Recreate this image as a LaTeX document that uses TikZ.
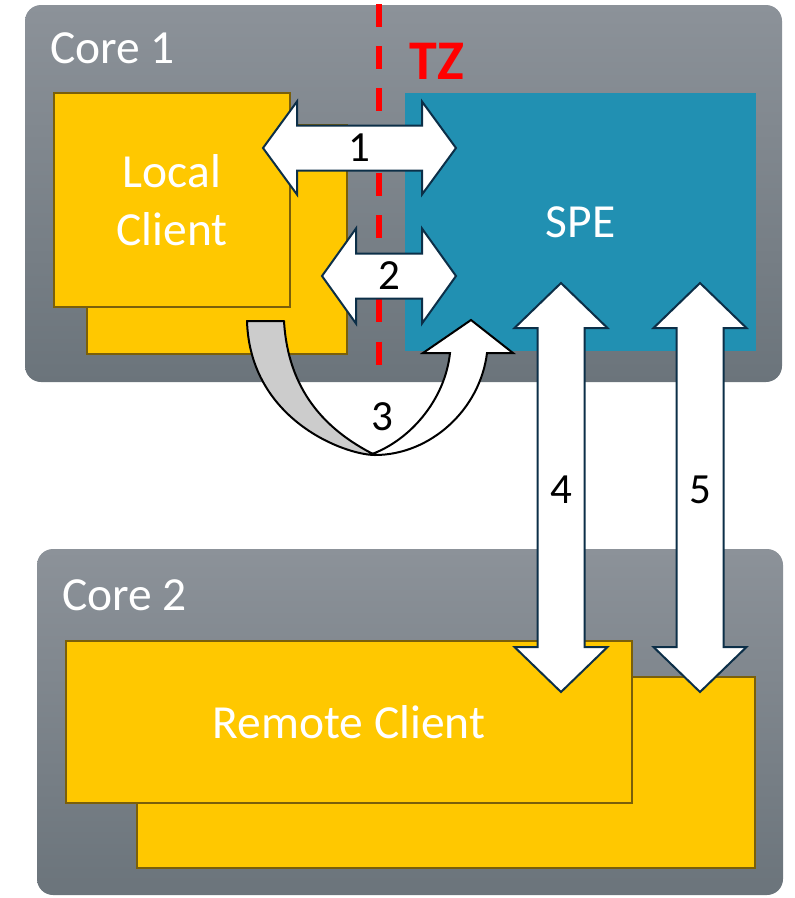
\documentclass[tikz,border=0pt]{standalone}
\usepackage{fontspec}
\setmainfont{Carlito}
\usepackage{tikz}

\definecolor{coretop}{RGB}{140,146,153}
\definecolor{corebot}{RGB}{107,116,123}
\definecolor{clientfill}{RGB}{255,200,0}
\definecolor{clientline}{RGB}{122,95,10}
\definecolor{spefill}{RGB}{33,144,178}
\definecolor{arrowline}{RGB}{12,47,72}
\definecolor{tailgray}{RGB}{204,204,204}

\begin{document}
\begin{tikzpicture}[x=1pt, y=-1pt,
    core/.style={rounded corners=16pt, top color=coretop, bottom color=corebot,
                 inner sep=0pt, outer sep=0pt},
    corelabel/.style={anchor=base west, text=white, inner sep=0pt,
                 font=\fontsize{47.5}{47.5}\selectfont},
    client/.style={fill=clientfill, draw=clientline, line width=2pt, inner sep=0pt,
                 text=white, align=center, font=\fontsize{47.5}{58}\selectfont},
    spe/.style={fill=spefill, inner sep=0pt, text=white,
                 font=\fontsize{47.5}{47.5}\selectfont},
    blockarrow/.style={fill=white, draw=arrowline, line width=2pt, line join=miter},
    num/.style={inner sep=0pt, font=\fontsize{43}{43}\selectfont}]
    \useasboundingbox (0,0) rectangle (795,898);

    % cores
    \node[core, minimum width=757pt, minimum height=377pt] (core1) at (403.5,193.5) {};
    \node[core, minimum width=746pt, minimum height=346pt] (core2) at (410,722) {};
    \node[corelabel] (core1lbl) at (50,63) {Core 1};
    \node[corelabel] (core2lbl) at (62,610) {Core 2};

    % clients and SPE
    \node[client, minimum width=260pt, minimum height=229pt] (localback) at (217,239.5) {};
    \node[client, minimum width=236pt, minimum height=214pt] (local) at (172,200) {Local\\Client};
    \node[spe, minimum width=351pt, minimum height=258pt] (spe) at (580.5,222) {SPE};

    % trust zone border
    \coordinate (tztop) at (379,4);
    \coordinate (tzbot) at (379,365);
    \draw[red, line width=6pt, dash pattern=on 23pt off 19.2pt] (tztop) -- (tzbot);
    \node[text=red, inner sep=0pt, font=\fontsize{56}{56}\selectfont\bfseries] (tz) at (437,61) {TZ};

    % arrows 1 and 2
    \draw[blockarrow] (263,148) -- (297,101.5) -- (297,125.5) -- (422,125.5) -- (422,101.5)
        -- (456,148) -- (422,194.5) -- (422,170.5) -- (297,170.5) -- (297,194.5) -- cycle;
    \draw[blockarrow] (322,276) -- (356,228.5) -- (356,253.5) -- (422,253.5) -- (422,228.5)
        -- (456,276) -- (422,323.5) -- (422,298.5) -- (356,298.5) -- (356,323.5) -- cycle;

    % arrow 3
    \draw[fill=tailgray, line width=2pt, line join=round] (247,321)
        .. controls (250,420) and (345,455) .. (375,455)
        .. controls (325,430) and (288,390) .. (284,321) -- cycle;
    \draw[fill=white, line width=2pt, line join=miter] (372,454)
        .. controls (410,440) and (445,400) .. (450,353) -- (423,353) -- (471,320)
        -- (513,353) -- (487,353) .. controls (480,410) and (430,455) .. (375,455) -- cycle;

    % remote client
    \node[client, minimum width=618pt, minimum height=191pt] (remoteback) at (446,772.5) {};
    \node[client, minimum width=566pt, minimum height=162pt] (remote) at (349,722) {Remote Client};

    % arrows 4 and 5
    \draw[blockarrow] (561,283) -- (607.5,328) -- (584.5,328) -- (584.5,647) -- (607.5,647)
        -- (561,692) -- (514.5,647) -- (537.5,647) -- (537.5,328) -- (514.5,328) -- cycle;
    \draw[blockarrow] (700,283) -- (746.5,328) -- (723.5,328) -- (723.5,647) -- (746.5,647)
        -- (700,692) -- (653.5,647) -- (676.5,647) -- (676.5,328) -- (653.5,328) -- cycle;

    % labels
    \node[num] (n1) at (359.5,148) {1};
    \node[num] (n2) at (389,276) {2};
    \node[num] (n3) at (382,417) {3};
    \node[num] (n4) at (561,490) {4};
    \node[num] (n5) at (700,490) {5};
\end{tikzpicture}
\end{document}
